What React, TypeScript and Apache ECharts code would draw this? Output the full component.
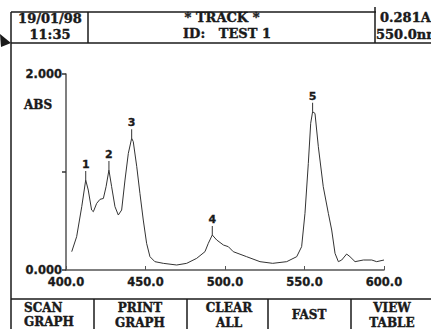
import React, { useEffect, useRef } from "react";
import * as echarts from "echarts";

const wavelengths = [
  403.6, 406.7, 409.9, 412.4, 414.0, 416.1, 417.2, 419.3, 421.4, 423.5, 425.2, 427.0,
  428.7, 430.8, 432.9, 435.0, 437.1, 439.2, 441.3, 442.3, 444.5, 446.5, 448.6, 450.7,
  452.8, 455.9, 461.2, 469.6, 475.9, 482.2, 487.4, 489.5, 492.0, 494.8, 499.0, 502.1,
  505.2, 513.6, 522.0, 530.0, 538.8, 545.1, 548.2, 550.3, 552.4, 553.9, 555.1, 556.6,
  558.7, 561.8, 565.0, 567.1, 569.2, 571.3, 573.4, 576.5, 578.6, 581.8, 587.0, 592.3,
  595.4, 600.0,
];
const absorbance = [
  0.187, 0.34, 0.646, 0.918, 0.816, 0.612, 0.595, 0.68, 0.721, 0.73, 0.85, 1.02,
  0.85, 0.646, 0.561, 0.612, 0.918, 1.19, 1.344, 1.31, 1.054, 0.782, 0.51, 0.272,
  0.136, 0.085, 0.068, 0.051, 0.068, 0.119, 0.187, 0.272, 0.357, 0.306, 0.255, 0.238,
  0.187, 0.136, 0.085, 0.068, 0.085, 0.136, 0.238, 0.578, 1.088, 1.497, 1.615, 1.598,
  1.258, 0.85, 0.578, 0.408, 0.17, 0.085, 0.102, 0.163, 0.136, 0.085, 0.102, 0.102,
  0.085, 0.102,
];
const peakLabels = ["1", "2", "3", "4", "5"];
const peakWavelengths = [412.4, 427.0, 441.3, 492.0, 555.1];
const peakAbsorbance = [0.918, 1.02, 1.344, 0.357, 1.615];
const xTicks = { min: 400, max: 600, interval: 50 };
const yTicks = { min: 0, max: 2, interval: 1 };
const buttons = [
  ["SCAN", "GRAPH"],
  ["PRINT", "GRAPH"],
  ["CLEAR", "ALL"],
  ["FAST"],
  ["VIEW", "TABLE"],
];

const SERIF = "DejaVu Serif";
const SANS = "DejaVu Sans";
const INK = "#1a1a1a";

export default function App() {
  const ref = useRef<HTMLDivElement>(null);
  useEffect(() => {
    if (!ref.current) return;
    const chart = echarts.init(ref.current, null, { renderer: "svg" });
    const lineStyle = { stroke: INK, lineWidth: 1.5 };
    const hline = (x1: number, x2: number, y: number) => ({
      type: "line",
      shape: { x1, y1: y, x2, y2: y },
      style: lineStyle,
      silent: true,
    });
    const vline = (x: number, y1: number, y2: number) => ({
      type: "line",
      shape: { x1: x, y1, x2: x, y2 },
      style: lineStyle,
      silent: true,
    });
    const txt = (
      text: string,
      x: number,
      y: number,
      align: string,
      size: number,
      family: string
    ) => ({
      type: "text",
      x,
      y,
      style: {
        text,
        fill: INK,
        stroke: INK,
        lineWidth: 0.4,
        font: `bold ${size}px "${family}"`,
        align,
        verticalAlign: "middle",
      },
      silent: true,
    });
    const btnCenters = [null, 140, 229, 309, 392];
    const btnGraphics: any[] = [];
    buttons.forEach((b, i) => {
      if (b.length === 1) {
        btnGraphics.push(txt(b[0], btnCenters[i] as number, 315, "center", 12, SERIF));
      } else if (i === 0) {
        btnGraphics.push(txt(b[0], 24, 308, "left", 12, SERIF));
        btnGraphics.push(txt(b[1], 24, 322, "left", 12, SERIF));
      } else {
        btnGraphics.push(txt(b[0], btnCenters[i] as number, 308, "center", 12, SERIF));
        btnGraphics.push(txt(b[1], btnCenters[i] as number, 323, "center", 12, SERIF));
      }
    });

    const labelText = {
      color: INK,
      fontFamily: SANS,
      fontWeight: "bold",
      fontSize: 11.5,
      textBorderColor: INK,
      textBorderWidth: 0.3,
    };

    chart.setOption({
      animation: false,
      backgroundColor: "#ffffff",
      grid: { left: 66, right: 47, top: 74, bottom: 59 },
      xAxis: {
        type: "value",
        min: xTicks.min,
        max: xTicks.max,
        interval: xTicks.interval,
        axisLine: { show: true, lineStyle: { color: "#555", width: 1.5 } },
        axisTick: { show: true, inside: true, length: 4, lineStyle: { color: "#555" } },
        splitLine: { show: false },
        axisLabel: {
          margin: 6,
          ...labelText,
          formatter: (v: number) => v.toFixed(1),
        },
      },
      yAxis: {
        type: "value",
        min: yTicks.min,
        max: yTicks.max,
        interval: yTicks.interval,
        axisLine: { show: true, lineStyle: { color: "#555", width: 1.5 } },
        axisTick: { show: true, length: 4, lineStyle: { color: "#333", width: 1.5 } },
        splitLine: { show: false },
        axisLabel: {
          margin: 4,
          ...labelText,
          formatter: (v: number) => (v === 1 ? "" : v.toFixed(3)),
        },
      },
      series: [
        {
          type: "line",
          data: wavelengths.map((w, i) => [w, absorbance[i]]),
          showSymbol: false,
          symbol: "none",
          lineStyle: { color: "#333", width: 1 },
          silent: true,
          markPoint: {
            silent: true,
            symbol: "rect",
            symbolSize: [1, 9],
            symbolOffset: [0, -4.5],
            itemStyle: { color: "#333" },
            label: {
              show: true,
              position: "top",
              distance: 1,
              ...labelText,
              fontSize: 11,
              formatter: "{b}",
            },
            data: peakLabels.map((n, i) => ({
              name: n,
              coord: [peakWavelengths[i], peakAbsorbance[i]],
            })),
          },
        },
      ],
      graphic: [
        // header box
        hline(11, 376, 12),
        hline(11, 431, 43),
        vline(11, 12, 329),
        vline(88, 12, 43),
        vline(375, 7, 43),
        // arrow
        {
          type: "polygon",
          shape: { points: [[0, 34], [11, 43], [1, 47]] },
          style: { fill: INK },
          silent: true,
        },
        txt("19/01/98", 50, 18.5, "center", 13, SERIF),
        txt("11:35", 50, 34, "center", 13, SERIF),
        txt("* TRACK *", 222, 17, "center", 13, SERIF),
        txt("ID:   TEST 1", 227, 33, "center", 13, SERIF),
        txt("0.281A", 380, 17, "left", 13, SERIF),
        txt("550.0nm", 376, 34, "left", 13, SERIF),
        txt("ABS", 24, 105, "left", 12, SERIF),
        // buttons row
        hline(11, 431, 299),
        vline(94, 299, 329),
        vline(187, 299, 329),
        vline(268, 299, 329),
        vline(351, 299, 329),
        ...btnGraphics,
      ],
    });
    return () => chart.dispose();
  }, []);
  return (
    <div
      ref={ref}
      style={{ position: "fixed", left: 0, top: 0, width: 431, height: 329, background: "#fff" }}
    />
  );
}
